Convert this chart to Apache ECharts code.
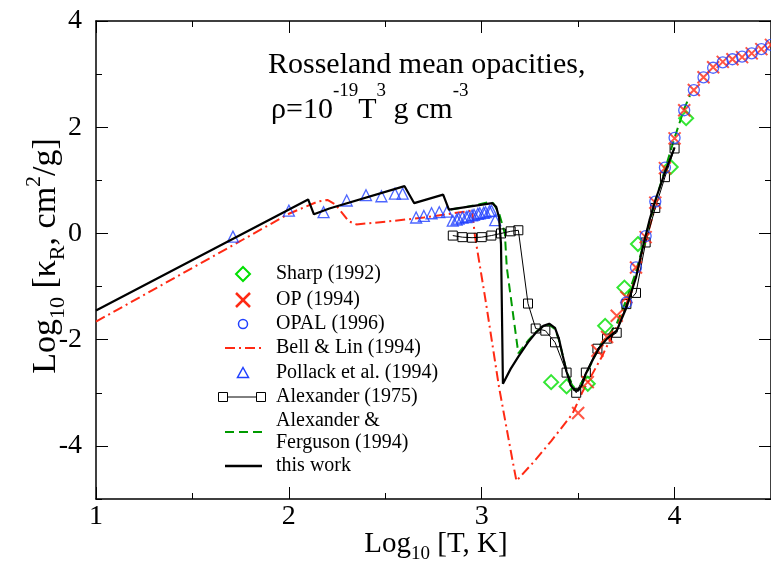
<!DOCTYPE html>
<html>
<head>
<meta charset="utf-8">
<script src="https://cdn.jsdelivr.net/npm/echarts@6/dist/echarts.min.js"></script>
<style>html,body{margin:0;padding:0;background:#fff}#c{width:771px;height:564px}</style>
</head>
<body>
<div id="c"></div>
<script>
// ---------- data (log10 T, log10 kappa) ----------
const xTicks = [1, 2, 3, 4];
const xMinorTicks = [1.5, 2.5, 3.5, 4.5];
const yTicks = [-4, -2, 0, 2, 4];
const yMinorTicks = [-5, -3, -1, 1, 3];

const sharp1992 = [[3.36,-2.8],[3.44,-2.88],[3.55,-2.83],[3.64,-1.74],[3.74,-1.02],[3.81,-0.2],[3.98,1.25],[4.06,2.17]];

const op1994 = [[3.50,-3.38],[3.55,-2.8],[3.60,-2.21],[3.65,-1.95],[3.70,-1.55],[3.75,-1.2],[3.80,-0.64],[3.85,-0.07],[3.90,0.58],[3.95,1.23],[4.00,1.79],[4.05,2.32],[4.10,2.70],[4.15,2.94],[4.20,3.13],[4.25,3.23],[4.30,3.28],[4.35,3.32],[4.40,3.39],[4.45,3.47],[4.50,3.55]];

const opal1996 = [[3.75,-1.3],[3.80,-0.64],[3.85,-0.05],[3.90,0.60],[3.95,1.24],[4.00,1.80],[4.05,2.32],[4.10,2.70],[4.15,2.94],[4.20,3.12],[4.25,3.22],[4.30,3.28],[4.35,3.33],[4.40,3.39],[4.45,3.47],[4.50,3.55]];

const bellLin1994 = [[1.0,-1.66],[1.5,-0.65],[2.0,0.37],[2.15,0.6],[2.2,0.63],[2.24,0.55],[2.28,0.37],[2.31,0.23],[2.35,0.17],[2.5,0.22],[2.7,0.3],[2.95,0.43],[2.965,-0.05],[3.02,-1.26],[3.09,-2.9],[3.16,-4.28],[3.18,-4.66],[3.27,-4.3],[3.36,-3.91],[3.47,-3.4],[3.52,-3.0],[3.62,-2.34],[3.70,-1.75],[3.75,-1.33],[3.80,-0.8],[3.85,-0.15],[3.90,0.5]];

const pollack1994 = [[1.71,-0.06],[2.0,0.43],[2.18,0.40],[2.30,0.62],[2.40,0.72],[2.48,0.70],[2.55,0.75],[2.59,0.75],[2.66,0.30],[2.70,0.33],[2.74,0.38],[2.78,0.40],[2.82,0.41],[2.85,0.24],[2.87,0.26],[2.88,0.28],[2.90,0.30],[2.92,0.31],[2.93,0.32],[2.95,0.34],[2.96,0.35],[2.98,0.37],[2.99,0.38],[3.01,0.39],[3.02,0.40],[3.04,0.42],[3.05,0.43],[3.07,0.25]];

const alexander1975 = [[2.85,-0.04],[2.90,-0.07],[2.95,-0.08],[3.00,-0.07],[3.05,-0.04],[3.10,0.0],[3.15,0.04],[3.19,0.06],[3.24,-1.32],[3.28,-1.79],[3.33,-1.83],[3.38,-2.05],[3.44,-2.62],[3.49,-3.0],[3.54,-2.62],[3.60,-2.17],[3.65,-1.98],[3.70,-1.87],[3.75,-1.33],[3.80,-1.12],[3.85,-0.17],[3.90,0.48],[3.95,1.06],[4.00,1.6]];

const alexFerg1994 = [[2.84,0.45],[2.92,0.5],[3.0,0.56],[3.04,0.59],[3.06,0.57],[3.09,0.38],[3.12,0.0],[3.13,-0.64],[3.16,-1.45],[3.19,-2.26],[3.24,-2.02],[3.28,-1.86],[3.32,-1.74],[3.35,-1.72],[3.38,-1.8],[3.40,-2.0],[3.44,-2.6],[3.48,-2.93],[3.50,-2.95],[3.54,-2.66],[3.61,-2.12],[3.66,-1.9],[3.70,-1.7],[3.75,-1.25],[3.80,-0.72],[3.85,-0.05],[3.90,0.6],[3.95,1.2],[4.0,1.8],[4.05,2.35],[4.08,2.6]];

const thisWork = [[1.0,-1.45],[2.1,0.64],[2.13,0.36],[2.21,0.47],[2.6,0.89],[2.65,0.57],[2.8,0.73],[2.83,0.45],[3.055,0.57],[3.075,0.5],[3.09,0.3],[3.10,-0.2],[3.11,-2.83],[3.15,-2.55],[3.19,-2.32],[3.24,-2.05],[3.28,-1.87],[3.32,-1.74],[3.35,-1.70],[3.38,-1.78],[3.40,-1.98],[3.42,-2.3],[3.44,-2.6],[3.46,-2.85],[3.48,-2.95],[3.50,-2.96],[3.52,-2.85],[3.54,-2.64],[3.58,-2.35],[3.61,-2.15],[3.65,-1.98],[3.70,-1.83],[3.75,-1.40],[3.80,-0.83],[3.84,-0.19],[3.87,0.25],[3.90,0.62],[3.95,1.15],[4.0,1.62]];

// ---------- styling ----------
const FONT = '"Liberation Serif","Times New Roman",serif';
const RED = '#ff2a14', BLUE = '#2040ff', GREEN_D = '#00e000', GREEN_L = '#009a00';
const NOFILL = 'rgba(0,0,0,0)';
const X_PATH = 'path://M0,0L10,10M10,0L0,10';

const chart = echarts.init(document.getElementById('c'), null, {renderer: 'canvas'});

function xAx(pos, ticks, len, labels, showLine) {
  return {
    type: 'value', position: pos, min: 1, max: 4.5,
    axisLine: {show: showLine, onZero: false, lineStyle: {color: '#000', width: 1.5}},
    axisTick: {show: true, inside: true, length: len, customValues: ticks, lineStyle: {color: '#000', width: 1}},
    axisLabel: labels ? {show: true, customValues: ticks, fontFamily: FONT, fontSize: 28, color: '#000', margin: 4} : {show: false},
    splitLine: {show: false}
  };
}
function yAx(pos, ticks, len, labels, showLine) {
  return {
    type: 'value', position: pos, min: -5, max: 4,
    axisLine: {show: showLine, onZero: false, lineStyle: {color: '#000', width: 1.5}},
    axisTick: {show: true, inside: true, length: len, customValues: ticks, lineStyle: {color: '#000', width: 1}},
    axisLabel: labels ? {show: true, customValues: ticks, fontFamily: FONT, fontSize: 28, color: '#000', margin: 14} : {show: false},
    splitLine: {show: false}
  };
}

// legend (drawn as graphic, fixed layout like the reference)
const LX = 243, TX = 276;
const rows = {sharp: 274, op: 300, opal: 324, bell: 348, pollack: 373, alex: 397, af: 432, tw: 466};
const legendTexts = [
  ['Sharp (1992)', rows.sharp], ['OP (1994)', rows.op], ['OPAL (1996)', rows.opal],
  ['Bell & Lin (1994)', rows.bell], ['Pollack et al. (1994)', rows.pollack],
  ['Alexander (1975)', rows.alex], ['Alexander &\nFerguson (1994)', rows.af], ['this work', rows.tw]
];
const legendGraphics = [];
legendTexts.forEach(([t, y]) => legendGraphics.push({
  type: 'text', x: TX, y: y,
  style: {text: t, fontFamily: FONT, fontSize: 20, fill: '#000', align: 'left', verticalAlign: 'middle', lineHeight: 22}
}));
legendGraphics.push(
  {type: 'polygon', shape: {points: [[LX, rows.sharp-7],[LX+7, rows.sharp],[LX, rows.sharp+7],[LX-7, rows.sharp]]}, style: {fill: NOFILL, stroke: GREEN_D, lineWidth: 2}},
  {type: 'polyline', shape: {points: [[LX-7, rows.op-7],[LX+7, rows.op+7]]}, style: {stroke: RED, lineWidth: 2.5, fill: null}},
  {type: 'polyline', shape: {points: [[LX+7, rows.op-7],[LX-7, rows.op+7]]}, style: {stroke: RED, lineWidth: 2.5, fill: null}},
  {type: 'circle', shape: {cx: LX, cy: rows.opal, r: 4.5}, style: {fill: NOFILL, stroke: BLUE, lineWidth: 1.5}},
  {type: 'line', shape: {x1: 225, y1: rows.bell, x2: 262, y2: rows.bell}, style: {stroke: RED, lineWidth: 2, lineDash: [10, 4, 2, 4]}},
  {type: 'polygon', shape: {points: [[LX, rows.pollack-5.5],[LX+5.5, rows.pollack+4.5],[LX-5.5, rows.pollack+4.5]]}, style: {fill: NOFILL, stroke: BLUE, lineWidth: 1.5}},
  {type: 'line', shape: {x1: 223, y1: rows.alex, x2: 261, y2: rows.alex}, style: {stroke: '#000', lineWidth: 1}},
  {type: 'rect', shape: {x: 218.5, y: rows.alex-4.5, width: 9, height: 9}, style: {fill: '#fff', stroke: '#000', lineWidth: 1}},
  {type: 'rect', shape: {x: 256.5, y: rows.alex-4.5, width: 9, height: 9}, style: {fill: '#fff', stroke: '#000', lineWidth: 1}},
  {type: 'line', shape: {x1: 225, y1: rows.af, x2: 262, y2: rows.af}, style: {stroke: GREEN_L, lineWidth: 2, lineDash: [9, 5]}},
  {type: 'line', shape: {x1: 225, y1: rows.tw, x2: 262, y2: rows.tw}, style: {stroke: '#000', lineWidth: 2.5}}
);

// titles / axis names with sub- and superscripts
const titleGraphics = [
  {type: 'text', x: 268, y: 65, style: {text: 'Rosseland mean opacities,', fontFamily: FONT, fontSize: 30, fill: '#000', align: 'left', verticalAlign: 'middle'}},
  {type: 'text', x: 271, y: 110, style: {
    text: '{m|ρ=10}{s|-19}{m|T}{s|3}{m| g cm}{s|-3}', align: 'left', verticalAlign: 'middle',
    rich: {m: {fontFamily: FONT, fontSize: 30, lineHeight: 56, fill: '#000'}, s: {fontFamily: FONT, fontSize: 19, lineHeight: 19, verticalAlign: 'top', fill: '#000'}}
  }},
  {type: 'text', x: 436, y: 544, style: {
    text: '{m|Log}{b|10}{m| [T, K]}', align: 'center', verticalAlign: 'middle',
    rich: {m: {fontFamily: FONT, fontSize: 29, lineHeight: 40, fill: '#000'}, b: {fontFamily: FONT, fontSize: 19, lineHeight: 19, verticalAlign: 'bottom', fill: '#000'}}
  }},
  {type: 'text', x: 46, y: 256, rotation: Math.PI / 2, style: {
    text: '{m|Log}{b|10}{m| [κ}{b|R}{m|, cm}{p|2}{m|/g]}', align: 'center', verticalAlign: 'middle',
    rich: {m: {fontFamily: FONT, fontSize: 34, lineHeight: 46, fill: '#000'}, b: {fontFamily: FONT, fontSize: 22, lineHeight: 22, verticalAlign: 'bottom', fill: '#000'}, p: {fontFamily: FONT, fontSize: 22, lineHeight: 22, verticalAlign: 'top', fill: '#000'}}
  }}
];

const option = {
  backgroundColor: '#fff',
  animation: false,
  grid: {left: 96, top: 21, width: 677, height: 478, containLabel: false},
  xAxis: [
    xAx('bottom', xTicks, 12, true, true),
    xAx('bottom', xMinorTicks, 6, false, false),
    xAx('top', xTicks, 12, false, true),
    xAx('top', xMinorTicks, 6, false, false)
  ],
  yAxis: [
    yAx('left', yTicks, 12, true, true),
    yAx('left', yMinorTicks, 6, false, false),
    yAx('right', yTicks, 12, false, true),
    yAx('right', yMinorTicks, 6, false, false)
  ],
  series: [
    {name: 'Bell & Lin (1994)', type: 'line', data: bellLin1994, showSymbol: false, symbol: 'none',
     lineStyle: {color: RED, width: 2, type: [10, 4, 2, 4]}, z: 2},
    {name: 'Alexander & Ferguson (1994)', type: 'line', data: alexFerg1994, showSymbol: false, symbol: 'none',
     lineStyle: {color: GREEN_L, width: 2, type: [9, 5]}, z: 3},
    {name: 'Pollack et al. (1994)', type: 'scatter', data: pollack1994, symbol: 'triangle', symbolSize: 11,
     itemStyle: {color: NOFILL, borderColor: BLUE, borderWidth: 1.3}, z: 4},
    {name: 'Alexander (1975)', type: 'line', data: alexander1975, symbol: 'rect', symbolSize: 9, showSymbol: true,
     lineStyle: {color: '#000', width: 1}, itemStyle: {color: NOFILL, borderColor: '#000', borderWidth: 1}, z: 5},
    {name: 'Sharp (1992)', type: 'scatter', data: sharp1992, symbol: 'diamond', symbolSize: 14,
     itemStyle: {color: NOFILL, borderColor: GREEN_D, borderWidth: 2}, z: 6},
    {name: 'OP (1994)', type: 'scatter', data: op1994, symbol: X_PATH, symbolSize: 12,
     itemStyle: {color: NOFILL, borderColor: RED, borderWidth: 2}, z: 6},
    {name: 'OPAL (1996)', type: 'scatter', data: opal1996, symbol: 'circle', symbolSize: 11,
     itemStyle: {color: NOFILL, borderColor: BLUE, borderWidth: 1.3}, z: 7},
    {name: 'this work', type: 'line', data: thisWork, showSymbol: false, symbol: 'none',
     lineStyle: {color: '#000', width: 2.2}, z: 8}
  ],
  graphic: titleGraphics.concat(legendGraphics)
};
chart.setOption(option);
</script>
</body>
</html>
